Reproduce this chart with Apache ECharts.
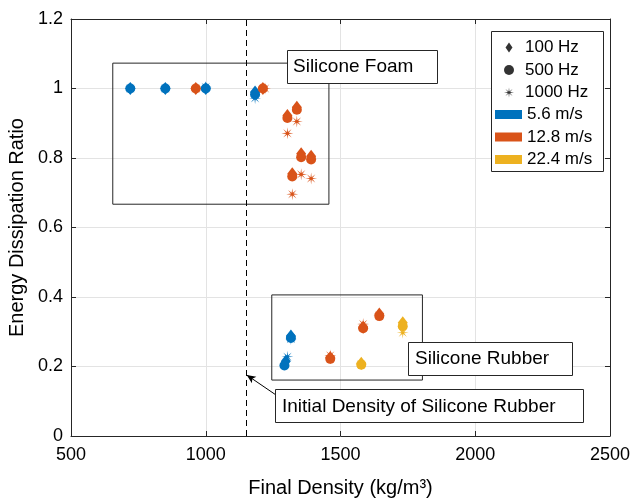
<!DOCTYPE html>
<html><head><meta charset="utf-8">
<script src="https://cdn.jsdelivr.net/npm/echarts@6/dist/echarts.min.js"></script>
<style>html,body{margin:0;padding:0;background:#fff}#c{width:630px;height:499px}</style>
</head><body><div id="c"></div>
<script>
// ---------- data ----------
const speeds = ['5.6 m/s', '12.8 m/s', '22.4 m/s'];
const freqs = ['100 Hz', '500 Hz', '1000 Hz'];
const xTicks = [500, 1000, 1500, 2000, 2500];
const yTicks = [0, 0.2, 0.4, 0.6, 0.8, 1, 1.2];

// 5.6 m/s
const dens_5p6_100 = [720, 850, 1000, 1183, 1316, 1297];
const ratio_5p6_100 = [1.0, 1.0, 1.0, 0.99, 0.288, 0.215];
const dens_5p6_500 = [720, 850, 1000, 1183, 1316, 1292];
const ratio_5p6_500 = [1.0, 1.0, 1.0, 0.983, 0.282, 0.203];
const dens_5p6_1000 = [720, 850, 1000, 1183, 1316, 1303];
const ratio_5p6_1000 = [1.0, 1.0, 1.004, 0.972, 0.279, 0.228];

// 12.8 m/s
const dens_12p8_100 = [963, 1212, 1303, 1321, 1338, 1354, 1391, 1462, 1584, 1644];
const ratio_12p8_100 = [1.0, 1.0, 0.922, 0.755, 0.946, 0.812, 0.805, 0.226, 0.313, 0.351];
const dens_12p8_500 = [963, 1212, 1303, 1321, 1338, 1354, 1391, 1462, 1584, 1644];
const ratio_12p8_500 = [1.0, 1.0, 0.915, 0.747, 0.939, 0.802, 0.796, 0.222, 0.310, 0.345];
const dens_12p8_1000 = [963, 1220, 1303, 1321, 1338, 1354, 1391, 1462, 1584, 1644];
const ratio_12p8_1000 = [1.0, 1.0, 0.871, 0.696, 0.905, 0.753, 0.741, 0.232, 0.322, 0.347];

// 22.4 m/s
const dens_22p4_100 = [1577, 1731];
const ratio_22p4_100 = [0.209, 0.326];
const dens_22p4_500 = [1577, 1731];
const ratio_22p4_500 = [0.205, 0.316];
const dens_22p4_1000 = [1577, 1731];
const ratio_22p4_1000 = [0.207, 0.297];

// annotations (data space)
const initialDensity = 1150;
const foamBox = [[655, 1.073], [1457, 0.667]];
const rubberBox = [[1245, 0.406], [1804, 0.161]];
const arrowLine = [[1257, 0.120], [1152, 0.1756]];

// ---------- styles ----------
const colors = {'5.6 m/s': '#0072BD', '12.8 m/s': '#D95319', '22.4 m/s': '#EDB120'};
const FONT = "'Liberation Sans', Arial, Helvetica, sans-serif";
function starPath() {
  let p = [];
  for (let k = 0; k < 16; k++) {
    const a = (k * 22.5 - 90) * Math.PI / 180;
    const r = k % 2 === 0 ? 10 : 2.4;
    p.push((k === 0 ? 'M' : 'L') + (r * Math.cos(a)).toFixed(3) + ',' + (r * Math.sin(a)).toFixed(3));
  }
  return 'path://' + p.join(' ') + ' Z';
}
const diamondPath = 'path://M0,-5 L3.5,0 L0,5 L-3.5,0 Z';
const symbols = {'100 Hz': diamondPath, '500 Hz': 'circle', '1000 Hz': starPath()};
const sizes = {'100 Hz': [10, 13], '500 Hz': 10, '1000 Hz': 12};

const dataSets = [
  ['5.6 m/s', '100 Hz', dens_5p6_100, ratio_5p6_100],
  ['5.6 m/s', '500 Hz', dens_5p6_500, ratio_5p6_500],
  ['5.6 m/s', '1000 Hz', dens_5p6_1000, ratio_5p6_1000],
  ['12.8 m/s', '100 Hz', dens_12p8_100, ratio_12p8_100],
  ['12.8 m/s', '500 Hz', dens_12p8_500, ratio_12p8_500],
  ['12.8 m/s', '1000 Hz', dens_12p8_1000, ratio_12p8_1000],
  ['22.4 m/s', '100 Hz', dens_22p4_100, ratio_22p4_100],
  ['22.4 m/s', '500 Hz', dens_22p4_500, ratio_22p4_500],
  ['22.4 m/s', '1000 Hz', dens_22p4_1000, ratio_22p4_1000]
];

const series = [];
// annotation carrier
series.push({
  type: 'scatter', name: '_annot', data: [], silent: true, z: 1,
  markArea: {
    silent: true,
    itemStyle: {color: 'rgba(0,0,0,0)', borderColor: '#262626', borderWidth: 1},
    label: {show: false},
    data: [
      [{coord: foamBox[0]}, {coord: foamBox[1]}],
      [{coord: rubberBox[0]}, {coord: rubberBox[1]}]
    ]
  },
  markLine: {
    silent: true, animation: false,
    label: {show: false},
    data: [
      [{coord: [initialDensity, yTicks[0]], symbol: 'none'}, {coord: [initialDensity, yTicks[yTicks.length - 1]], symbol: 'none', lineStyle: {color: '#000', width: 1, type: [6, 4]}}],
      [{coord: arrowLine[0], symbol: 'none'}, {coord: arrowLine[1], symbol: 'arrow', symbolSize: [6, 9], lineStyle: {color: '#000', width: 1, type: 'solid'}}]
    ]
  }
});
for (const [sp, fr, xs, ys] of dataSets) {
  series.push({
    type: 'scatter', name: sp,
    symbol: symbols[fr], symbolSize: sizes[fr], symbolKeepAspect: false,
    itemStyle: {color: colors[sp], opacity: 1},
    data: xs.map((x, i) => [x, ys[i]]),
    z: 3
  });
}
// legend-only series for frequencies
for (const fr of freqs) {
  series.push({type: 'scatter', name: fr, data: [], symbol: symbols[fr], itemStyle: {color: '#000'}});
}

const axisCol = '#262626';
const option = {
  backgroundColor: '#fff',
  animation: false,
  textStyle: {fontFamily: FONT},
  grid: {left: 71, right: 20, top: 19, bottom: 63, containLabel: false, outerBoundsMode: 'none'},
  xAxis: [{
    type: 'value', min: xTicks[0], max: xTicks[xTicks.length - 1], interval: 500,
    name: 'Final Density (kg/m³)', nameLocation: 'middle', nameGap: 42,
    nameTextStyle: {fontSize: 20, color: '#000', fontFamily: FONT},
    axisLine: {lineStyle: {color: axisCol, width: 1}},
    axisTick: {inside: true, length: 5, lineStyle: {color: axisCol}},
    axisLabel: {fontSize: 18, color: '#000', margin: 10, fontFamily: FONT, formatter: v => String(v)},
    splitLine: {show: true, lineStyle: {color: '#e3e3e3', width: 1}}
  }, {
    type: 'value', position: 'top', min: xTicks[0], max: xTicks[xTicks.length - 1], interval: 500,
    axisLine: {show: true, onZero: false, lineStyle: {color: axisCol, width: 1}},
    axisTick: {inside: true, length: 5, lineStyle: {color: axisCol}},
    axisLabel: {show: false}, splitLine: {show: false}
  }],
  yAxis: [{
    type: 'value', min: yTicks[0], max: yTicks[yTicks.length - 1], interval: 0.2,
    name: 'Energy Dissipation Ratio', nameLocation: 'middle', nameGap: 36,
    nameTextStyle: {fontSize: 20, color: '#000', fontFamily: FONT},
    axisLine: {show: true, lineStyle: {color: axisCol, width: 1}},
    axisTick: {show: true, inside: true, length: 5, lineStyle: {color: axisCol}},
    axisLabel: {fontSize: 18, color: '#000', margin: 8, fontFamily: FONT, formatter: v => String(+v.toFixed(1))},
    splitLine: {show: true, lineStyle: {color: '#e3e3e3', width: 1}}
  }, {
    type: 'value', position: 'right', min: yTicks[0], max: yTicks[yTicks.length - 1], interval: 0.2,
    axisLine: {show: true, onZero: false, lineStyle: {color: axisCol, width: 1}},
    axisTick: {show: true, inside: true, length: 5, lineStyle: {color: axisCol}},
    axisLabel: {show: false}, splitLine: {show: false}
  }],
  legend: [{
    orient: 'vertical', left: 504, top: 39, padding: 0, z: 6,
    itemWidth: 10, itemHeight: 10, itemGap: 5.5, selectedMode: false,
    textStyle: {fontSize: 17, color: '#000', lineHeight: 17, padding: [0, 0, 0, 6], fontFamily: FONT},
    data: freqs.map(f => ({name: f, icon: symbols[f]}))
  }, {
    orient: 'vertical', left: 495, top: 106, padding: 0, z: 6,
    itemWidth: 27, itemHeight: 9, itemGap: 5.5, selectedMode: false,
    textStyle: {fontSize: 17, color: '#000', lineHeight: 17, fontFamily: FONT},
    data: speeds.map(s => ({name: s, icon: 'rect'}))
  }],
  graphic: [
    {type: 'rect', z: 4, shape: {x: 491.5, y: 31.5, width: 112, height: 140},
     style: {fill: '#fff', stroke: '#262626', lineWidth: 1}},
    {type: 'rect', z: 10, shape: {x: 287.5, y: 50.5, width: 150, height: 33},
     style: {fill: '#fff', stroke: '#262626', lineWidth: 1}},
    {type: 'text', z: 11, style: {x: 293, y: 67, text: 'Silicone Foam', font: '19px ' + FONT, fill: '#000', verticalAlign: 'middle', textVerticalAlign: 'middle'}},
    {type: 'rect', z: 10, shape: {x: 408.5, y: 342.5, width: 164, height: 33},
     style: {fill: '#fff', stroke: '#262626', lineWidth: 1}},
    {type: 'text', z: 11, style: {x: 415, y: 359, text: 'Silicone Rubber', font: '19px ' + FONT, fill: '#000', verticalAlign: 'middle', textVerticalAlign: 'middle'}},
    {type: 'rect', z: 10, shape: {x: 275.5, y: 389.5, width: 308, height: 33},
     style: {fill: '#fff', stroke: '#262626', lineWidth: 1}},
    {type: 'text', z: 11, style: {x: 282, y: 406.5, text: 'Initial Density of Silicone Rubber', font: '19px ' + FONT, fill: '#000', verticalAlign: 'middle', textVerticalAlign: 'middle'}}
  ],
  series: series
};
const chart = echarts.init(document.getElementById('c'), null, {renderer: 'canvas'});
chart.setOption(option);
</script>
</body></html>
